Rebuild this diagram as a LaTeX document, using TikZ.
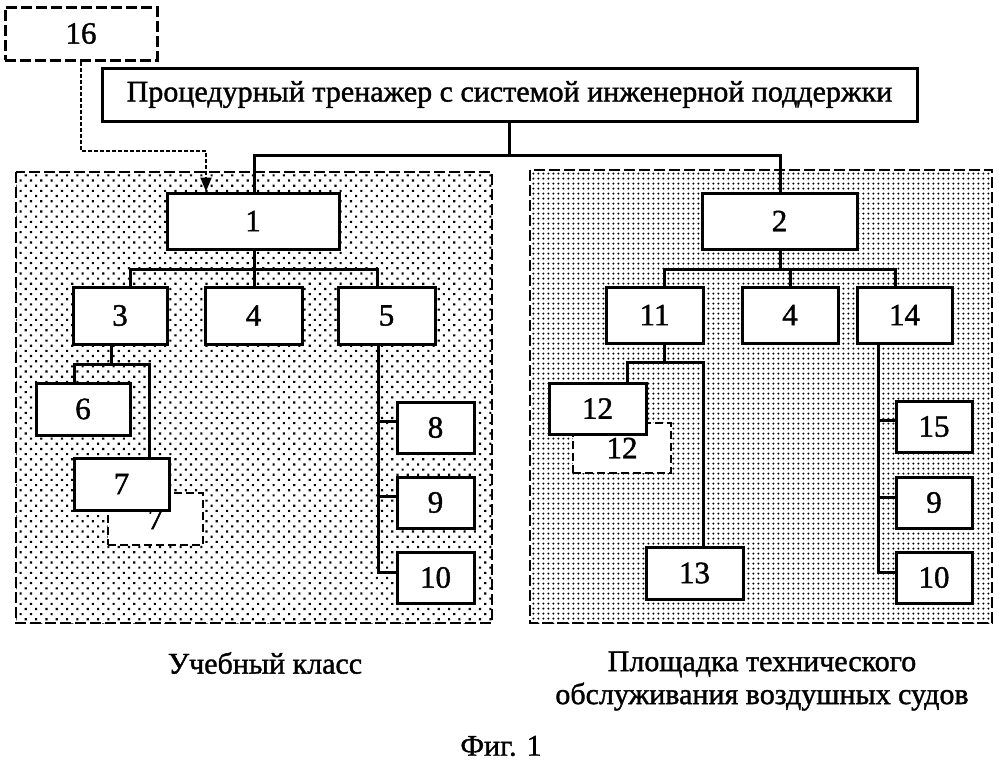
\documentclass[tikz,border=0pt]{standalone}
\usepackage{fontspec}
\setmainfont[FakeBold=1.2,AutoFakeBold=1.2]{Liberation Serif}
\newfontfamily\scanfont[FakeBold=1.3]{Liberation Serif}
\usetikzlibrary{patterns.meta,arrows.meta}
\begin{document}
\begin{tikzpicture}[x=1pt,y=-1pt,
  box/.style={draw,line width=3pt,fill=white,inner sep=0pt,font=\scanfont\fontsize{31}{36}\selectfont},
  ghost/.style={draw,line width=2.4pt,dash pattern=on 8pt off 4pt,fill=white,inner sep=0pt,font=\scanfont\fontsize{31}{36}\selectfont},
  conn/.style={line width=3pt},
  region/.style={line width=2.8pt,dash pattern=on 11pt off 4pt},
  caption/.style={font=\scanfont\fontsize{30}{33}\selectfont,align=center,inner sep=0pt}]
\useasboundingbox (0,0) rectangle (999,769);
% regions
\fill[pattern={Dots[distance=7.3pt,radius=1.5pt,angle=45]}] (16,172) rectangle (492,623);
\draw[region] (16,172) rectangle (492,623);
\fill[pattern={Dots[distance=5.4pt,radius=1.25pt]}] (530,170) rectangle (992,623);
\draw[region] (530,170) rectangle (992,623);
% nodes
\node[box,dash pattern=on 11pt off 4pt,minimum width=152pt,minimum height=53pt] (n16) at (81,33.5) {16};
\node[box,minimum width=815pt,minimum height=53pt,font=\scanfont\fontsize{30}{34}\selectfont] (title) at (509.5,94.5) {Процедурный тренажер с системой инженерной поддержки};
\coordinate (topbus) at (509.5,155);
\coordinate (busA) at (254,269);
\coordinate (busB) at (780,269);
\coordinate (bus3) at (111,364);
\coordinate (bus11) at (664,362);
% connectors (drawn before boxes)
\draw[conn] (title.south) -- (topbus);
\draw[conn] (254,193) |- (topbus) -| (780,193);
\draw[conn] (254,249) -- (busA);
\draw[conn] (130,287) |- (busA) -| (377,287);
\draw[conn] (busA) -- (254,287);
\draw[conn] (111,344) -- (bus3);
\draw[conn] (74,383) |- (bus3) -| (149,458);
\draw[conn] (378,344) |- (397,572);
\draw[conn] (378,421) -- (397,421);
\draw[conn] (378,496) -- (397,496);
\draw[conn] (780,249) -- (busB);
\draw[conn] (664,287) |- (busB) -| (895,287);
\draw[conn] (790,269) -- (790,287);
\draw[conn] (664,343) -- (bus11);
\draw[conn] (627,383) |- (bus11) -| (703,547);
\draw[conn] (878,343) |- (896,572);
\draw[conn] (878,420) -- (896,420);
\draw[conn] (878,497) -- (896,497);
% left boxes
\node[box,minimum width=172pt,minimum height=56pt] (b1) at (253,221) {1};
\node[box,minimum width=94pt,minimum height=57pt] (b3) at (120,315.5) {3};
\node[box,minimum width=97pt,minimum height=57pt] (b4L) at (253.5,315.5) {4};
\node[box,minimum width=97pt,minimum height=57pt] (b5) at (386.5,315.5) {5};
\node[box,minimum width=94pt,minimum height=52pt] (b6) at (83,409) {6};
\node[ghost,minimum width=95pt,minimum height=52pt] (b7d) at (155.5,519) {7};
\node[box,minimum width=95pt,minimum height=52pt] (b7) at (121.5,484) {7};
\node[box,minimum width=77pt,minimum height=51pt] (b8) at (435.5,427.5) {8};
\node[box,minimum width=77pt,minimum height=51pt] (b9L) at (435.5,502.5) {9};
\node[box,minimum width=77pt,minimum height=51pt] (b10L) at (435.5,577.5) {10};
% right boxes
\node[box,minimum width=155pt,minimum height=56pt] (b2) at (779.5,221) {2};
\node[box,minimum width=97pt,minimum height=56pt] (b11) at (654.5,315) {11};
\node[box,minimum width=96pt,minimum height=56pt] (b4R) at (790,315) {4};
\node[box,minimum width=95pt,minimum height=56pt] (b14) at (904.5,315) {14};
\node[ghost,minimum width=98pt,minimum height=50pt] (b12d) at (622,448) {12};
\node[box,minimum width=97pt,minimum height=51pt] (b12) at (597.5,408.5) {12};
\node[box,minimum width=97pt,minimum height=52pt] (b13) at (694.5,573) {13};
\node[box,minimum width=76pt,minimum height=51pt] (b15) at (934,426.5) {15};
\node[box,minimum width=76pt,minimum height=51pt] (b9R) at (934,502.5) {9};
\node[box,minimum width=76pt,minimum height=51pt] (b10R) at (934,577.5) {10};
% dotted arrow from 16 to 1
\draw[line width=2.4pt,dash pattern=on 4pt off 2pt,-{Triangle[length=14pt,width=11pt]}]
  (n16.south) |- (206,151) -- (b1.north -| 206,0);
% captions
\node[caption] (capL) at (265,663) {Учебный класс};
\node[caption] (capR) at (762,681) {Площадка технического\\обслуживания воздушных судов};
\node[caption] (fig) at (501,746) {Фиг. 1};
\end{tikzpicture}
\end{document}
